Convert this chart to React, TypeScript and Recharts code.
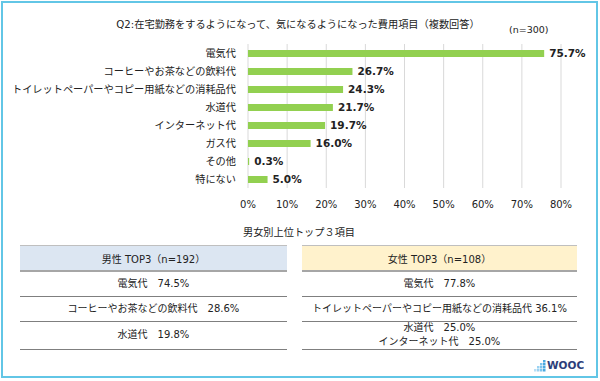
import React from 'react';
import { BarChart, Bar, XAxis, YAxis, CartesianGrid, LabelList } from 'recharts';

const categories = [
  '電気代',
  'コーヒーやお茶などの飲料代',
  'トイレットペーパーやコピー用紙などの消耗品代',
  '水道代',
  'インターネット代',
  'ガス代',
  'その他',
  '特にない',
];
const values = [75.7, 26.7, 24.3, 21.7, 19.7, 16.0, 0.3, 5.0];
const xTicks = [0, 10, 20, 30, 40, 50, 60, 70, 80];

const chartTitle = 'Q2:在宅勤務をするようになって、気になるようになった費用項目（複数回答）';
const sampleNote = '(n=300)';
const tableTitle = '男女別上位トップ３項目';
const maleHeader = '男性 TOP3（n=192）';
const maleRows = [['電気代　74.5%'], ['コーヒーやお茶などの飲料代　28.6%'], ['水道代　19.8%']];
const femaleHeader = '女性 TOP3（n=108）';
const femaleRows = [
  ['電気代　77.8%'],
  ['トイレットペーパーやコピー用紙などの消耗品代 36.1%'],
  ['水道代　25.0%', 'インターネット代　25.0%'],
];

const data = categories.map((name, i) => ({ name, value: values[i] }));

const FONT = '"DejaVu Sans", "Noto Sans CJK JP", sans-serif';
const CJK = '"Noto Sans CJK JP", "DejaVu Sans", sans-serif';

const rowBounds = [
  [272, 296],
  [296, 321],
  [321, 349],
];

function Table({ left, width, header, rows, headerFill }: { left: number; width: number; header: string; rows: string[][]; headerFill: string }) {
  return (
    <>
      <div style={{ position: 'absolute', left, top: 245, width, height: 1, background: '#bfbfbf' }} />
      <div
        style={{
          position: 'absolute',
          left,
          top: 246,
          width,
          height: 24,
          background: headerFill,
          display: 'flex',
          alignItems: 'center',
          justifyContent: 'center',
          fontSize: 10,
          color: '#222',
          fontFamily: FONT,
        }}
      >
        {header}
      </div>
      <div style={{ position: 'absolute', left, top: 270, width, height: 2, background: '#a6a6a6' }} />
      {rows.map((lines, i) => (
        <React.Fragment key={i}>
          <div
            style={{
              position: 'absolute',
              left,
              top: rowBounds[i][0],
              width,
              height: rowBounds[i][1] - rowBounds[i][0],
              display: 'flex',
              flexDirection: 'column',
              alignItems: 'center',
              justifyContent: 'center',
              fontSize: 10,
              lineHeight: '14px',
              color: '#222',
              fontFamily: FONT,
              whiteSpace: 'nowrap',
            }}
          >
            {lines.map((l, j) => (
              <div key={j}>{l}</div>
            ))}
          </div>
          <div style={{ position: 'absolute', left, top: rowBounds[i][1], width, height: 1, background: '#7f7f7f' }} />
        </React.Fragment>
      ))}
    </>
  );
}

export default function App() {
  return (
    <div style={{ position: 'absolute', left: 0, top: 0, width: 600, height: 381, background: '#fff', overflow: 'hidden' }}>
      <div
        style={{
          position: 'absolute',
          left: 1,
          top: 1,
          width: 597,
          height: 377,
          boxSizing: 'border-box',
          border: '2px solid #62c6e6',
        }}
      />
      <div
        style={{
          position: 'absolute',
          left: 0,
          width: 596,
          top: 17,
          textAlign: 'center',
          fontSize: 10.2,
          lineHeight: '16px',
          color: '#222',
          fontFamily: FONT,
          whiteSpace: 'nowrap',
        }}
      >
        {chartTitle}
      </div>
      <div
        style={{
          position: 'absolute',
          left: 509,
          top: 23,
          fontSize: 9.5,
          lineHeight: '14px',
          color: '#222',
          fontFamily: FONT,
          whiteSpace: 'nowrap',
        }}
      >
        {sampleNote}
      </div>
      <div style={{ position: 'absolute', left: 0, top: 0 }}>
        <BarChart
          width={600}
          height={220}
          data={data}
          layout="vertical"
          margin={{ top: 44, right: 39, left: 0, bottom: 2 }}
          barCategoryGap={0}
        >
          <CartesianGrid horizontal={false} stroke="#d9d9d9" />
          <XAxis
            type="number"
            domain={[0, 80]}
            ticks={xTicks}
            tickFormatter={(v: number) => `${v}%`}
            axisLine={false}
            tickLine={false}
            tickMargin={7}
            height={30}
            tick={{ fontSize: 10, fill: '#222', fontFamily: FONT }}
            interval={0}
          />
          <YAxis
            type="category"
            dataKey="name"
            width={248}
            axisLine={false}
            tickLine={false}
            tickMargin={6}
            interval={0}
            tick={{ fontSize: 10.2, fill: '#222', fontFamily: CJK }}
          />
          <Bar dataKey="value" fill="#92d050" barSize={7} isAnimationActive={false}>
            <LabelList
              dataKey="value"
              position="right"
              offset={5}
              formatter={(v: number) => `${Number(v).toFixed(1)}%`}
              style={{ fontSize: 10.5, fontWeight: 'bold', fill: '#222', fontFamily: FONT }}
            />
          </Bar>
        </BarChart>
      </div>
      <div
        style={{
          position: 'absolute',
          left: 243,
          top: 226,
          fontSize: 10.2,
          lineHeight: '14px',
          color: '#222',
          fontFamily: FONT,
          whiteSpace: 'nowrap',
        }}
      >
        {tableTitle}
      </div>
      <Table left={20} width={267} header={maleHeader} rows={maleRows} headerFill="#dce6f2" />
      <Table left={302} width={275} header={femaleHeader} rows={femaleRows} headerFill="#fff2cc" />
      <svg style={{ position: 'absolute', left: 534, top: 358 }} width={50} height={16}>
        <rect x={9} y={2} width={2.5} height={2.5} fill="#4aa8e0" />
        <rect x={6} y={5} width={2.5} height={2.5} fill="#7cc4ee" />
        <rect x={9} y={5} width={2.5} height={2.5} fill="#4aa8e0" />
        <rect x={3} y={8} width={2.5} height={2.5} fill="#9ad2f2" />
        <rect x={6} y={8} width={2.5} height={2.5} fill="#7cc4ee" />
        <rect x={9} y={8} width={2.5} height={2.5} fill="#4aa8e0" />
        <rect x={0} y={11} width={2.5} height={2.5} fill="#b8def5" />
        <rect x={3} y={11} width={2.5} height={2.5} fill="#9ad2f2" />
        <rect x={6} y={11} width={2.5} height={2.5} fill="#7cc4ee" />
        <rect x={9} y={11} width={2.5} height={2.5} fill="#4aa8e0" />
        <text x={13} y={11} fontSize={10.5} fontWeight="bold" fill="#2c3e7a" fontFamily={FONT}>
          WOOC
        </text>
      </svg>
    </div>
  );
}
